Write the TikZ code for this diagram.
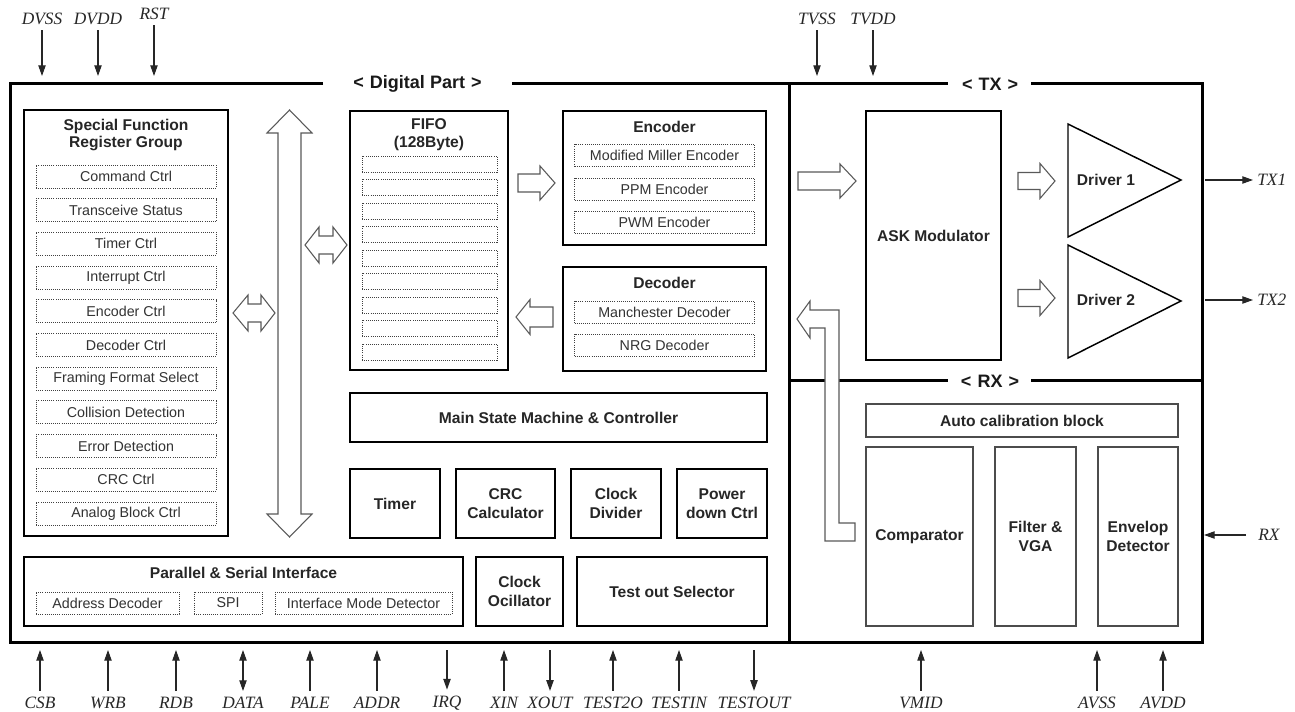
\documentclass[tikz,border=0pt]{standalone}
\usepackage{fontspec}
\setmainfont{Liberation Sans}
\newfontfamily\pinfamily{Liberation Serif}
\usetikzlibrary{arrows.meta}
\newcommand\mybox[7]{%
  \pgfmathsetmacro\mbw{((#4)-(#2))*0.75}%
  \pgfmathsetmacro\mbh{((#5)-(#3))*0.75}%
  \node[#6, minimum width=\mbw pt, minimum height=\mbh pt] (#1) at ({((#2)+(#4))/2},{((#3)+(#5))/2}) {#7};}
\newcommand\harrowshape[6]{% tail, base, tip, yc, shaft half, head half
  \draw[hollow] (#1,{#4-#5}) -- (#2,{#4-#5}) -- (#2,{#4-#6}) -- (#3,#4) -- (#2,{#4+#6}) -- (#2,{#4+#5}) -- (#1,{#4+#5}) -- cycle;}
\newcommand\hdarrowshape[7]{% ltip, lbase, rbase, rtip, yc, s, h
  \draw[hollow] (#1,#5) -- (#2,{#5-#7}) -- (#2,{#5-#6}) -- (#3,{#5-#6}) -- (#3,{#5-#7}) -- (#4,#5) -- (#3,{#5+#7}) -- (#3,{#5+#6}) -- (#2,{#5+#6}) -- (#2,{#5+#7}) -- cycle;}
\tikzset{
  frame/.style={line width=2.25pt, line join=miter},
  blk/.style={draw=black, line width=1.1pt, fill=white, inner sep=0pt, align=center,
    font=\bfseries\fontsize{11.7}{14}\selectfont, text=black!85},
  rxblk/.style={blk, draw=black!70, line width=1pt},
  dbox/.style={draw=black!75, line width=0.6pt, densely dotted, inner sep=0pt,
    font=\fontsize{10.7}{12}\selectfont, text=black!80},
  ttl/.style={font=\bfseries\fontsize{11.7}{12.75}\selectfont, align=center, inner sep=0pt, text=black!85},
  hollow/.style={draw=black!65, line width=0.8pt, fill=white, line join=miter},
  pin/.style={line width=0.8pt, draw=black!85, -{Triangle[length=8pt,width=5.5pt]}},
  pinboth/.style={line width=0.8pt, draw=black!85, {Triangle[length=8pt,width=5.5pt]}-{Triangle[length=8pt,width=5.5pt]}},
  pinlbl/.style={font=\pinfamily\itshape\fontsize{13}{15}\selectfont, inner sep=0pt, text=black!85},
  sect/.style={font=\bfseries\fontsize{13.5}{15}\selectfont, inner sep=0pt, text=black!90}
}
\begin{document}
\begin{tikzpicture}[x=0.75pt,y=-0.75pt]
\useasboundingbox (0,0) rectangle (1295,712);

% ---------- frames ----------
\draw[frame] (323,84) -- (10,84) -- (10,642) -- (1202,642) -- (1202,84) -- (1031,84);
\draw[frame] (512,84) -- (948,84);
\draw[frame] (789,84) -- (789,642);
\draw[frame] (789,381) -- (948,381);
\draw[frame] (1031,381) -- (1202,381);
\node[sect] (digital) at (417.5,84) {<\,\,Digital Part\,\,>};
\node[sect] (tx) at (990,84) {<\,\,TX\,\,>};
\node[sect] (rx) at (990,381) {<\,\,RX\,\,>};

% ---------- SFR group ----------
\mybox{sfr}{24}{110}{228}{536}{blk}{}
\node[ttl] (sfrt) at (126,135.5) {Special Function\\Register Group};
\foreach \t [count=\i from 0] in {Command Ctrl,Transceive Status,Timer Ctrl,Interrupt Ctrl,Encoder Ctrl,Decoder Ctrl,Framing Format Select,Collision Detection,Error Detection,CRC Ctrl,Analog Block Ctrl}{
  \node[dbox, minimum width=135pt, minimum height=17.25pt] (sfr\i) at (126,{176.5+33.7*\i}) {\t};
}

% ---------- bus arrows ----------
\hdarrowshape{233}{248}{261}{275}{313}{9}{18}
\draw[hollow] (289.5,110) -- (312,133) -- (301,133) -- (301,514) -- (312,514) -- (289.5,537)
  -- (267,514) -- (278,514) -- (278,133) -- (267,133) -- cycle;
\hdarrowshape{305}{319}{333}{347}{245}{9}{18}

% ---------- FIFO ----------
\mybox{fifo}{350}{111}{508}{370}{blk}{}
\node[ttl] (fifot) at (429,124) {FIFO};
\node[ttl] (fifob) at (429,143) {(128Byte)};
\foreach \i in {0,...,8}{
  \node[dbox, minimum width=101.25pt, minimum height=12pt] (ff\i) at (429.5,{164+23.5*\i}) {};
}

% ---------- Encoder / Decoder ----------
\mybox{enc}{563}{111}{766}{245}{blk}{}
\node[ttl] (enct) at (664.5,127) {Encoder};
\node[dbox, minimum width=135pt, minimum height=16.5pt] (enc1) at (664.5,155.5) {Modified Miller Encoder};
\node[dbox, minimum width=135pt, minimum height=16.5pt] (enc2) at (664.5,189) {PPM Encoder};
\node[dbox, minimum width=135pt, minimum height=16.5pt] (enc3) at (664.5,222) {PWM Encoder};

\mybox{dec}{563}{267}{766}{371}{blk}{}
\node[ttl] (dect) at (664.5,283) {Decoder};
\node[dbox, minimum width=135pt, minimum height=16.5pt] (dec1) at (664.5,312) {Manchester Decoder};
\node[dbox, minimum width=135pt, minimum height=16.5pt] (dec2) at (664.5,345) {NRG Decoder};

\harrowshape{518}{540}{555}{183}{9}{17}
\harrowshape{553}{530}{516}{317}{10}{17.5}

% ---------- Controller blocks ----------
\mybox{msm}{350}{393}{767}{442}{blk}{Main State Machine \& Controller}
\mybox{timer}{350}{469}{440}{538}{blk}{Timer}
\mybox{crc}{456}{469}{555}{538}{blk}{CRC\\Calculator}
\mybox{clkdiv}{571}{469}{661}{538}{blk}{Clock\\Divider}
\mybox{pwr}{677}{469}{767}{538}{blk}{Power\\down Ctrl}

% ---------- bottom row ----------
\mybox{psi}{24}{557}{463}{626}{blk}{}
\node[ttl] (psit) at (243.5,573) {Parallel \& Serial Interface};
\mybox{addr}{36}{592}{179}{614}{dbox}{Address Decoder}
\mybox{spi}{194}{592}{262}{614}{dbox}{SPI}
\mybox{imd}{275}{592}{452}{614}{dbox}{Interface Mode Detector}
\mybox{osc}{476}{557}{563}{626}{blk}{Clock\\Ocillator}
\mybox{tos}{577}{557}{767}{626}{blk}{Test out Selector}

% ---------- TX ----------
\mybox{ask}{866}{111}{1001}{360}{blk}{ASK Modulator}
\harrowshape{798}{840}{856}{181}{9}{17}
\harrowshape{1018}{1040}{1055}{181}{8.5}{17.5}
\harrowshape{1018}{1040}{1055}{298}{8.5}{17.5}
\draw[line width=1.1pt, line join=miter] (1068,124) -- (1181,180) -- (1068,237) -- cycle;
\node[ttl] (drv1) at (1106,180) {Driver 1};
\draw[line width=1.1pt, line join=miter] (1068,245) -- (1181,301) -- (1068,358) -- cycle;
\node[ttl] (drv2) at (1106,300) {Driver 2};

% ---------- RX ----------
\mybox{acal}{866}{404}{1178}{437}{rxblk}{Auto calibration block}
\mybox{comp}{866}{447}{973}{626}{rxblk}{Comparator}
\mybox{fvga}{995}{447}{1076}{626}{rxblk}{Filter \&\\VGA}
\mybox{env}{1098}{447}{1178}{626}{rxblk}{Envelop\\Detector}
\draw[hollow] (855,523) -- (839,523) -- (839,310) -- (810,310) -- (810,301) -- (797,319)
  -- (810,338) -- (810,328) -- (825,328) -- (825,541) -- (855,541) -- cycle;

% ---------- pins ----------
\foreach \n/\x/\y in {DVSS/42/19,DVDD/98/19,RST/154/14,TVSS/817/19,TVDD/873/19}{
  \node[pinlbl] (p\n) at (\x,\y) {\n};
  \coordinate (f\n) at (\x,76);
  \draw[pin, shorten <=4pt] (p\n.south) -- (f\n);
}
\foreach \n/\x in {CSB/40,WRB/108,RDB/176,PALE/310,ADDR/377,XIN/504,TEST2O/613,TESTIN/679,VMID/921,AVSS/1097,AVDD/1163}{
  \node[pinlbl] (p\n) at (\x,703) {\n};
  \coordinate (f\n) at (\x,650);
  \draw[pin, shorten <=4.5pt] (p\n.north) -- (f\n);
}
\foreach \n/\x in {IRQ/447,XOUT/550,TESTOUT/754}{
  \node[pinlbl] (p\n) at (\x,703) {\n};
  \coordinate (f\n) at (\x,650);
  \draw[pin, shorten >=4.5pt] (f\n) -- (p\n.north);
}
\node[pinlbl] (pDATA) at (243,703) {DATA};
\coordinate (fDATA) at (243,650);
\draw[pinboth, shorten <=4.5pt] (pDATA.north) -- (fDATA);

\node[pinlbl, anchor=west] (pTX1) at (1257,180) {TX1};
\coordinate (fTX1) at (1205,180);
\draw[pin, shorten >=3pt] (fTX1) -- (pTX1.west);
\node[pinlbl, anchor=west] (pTX2) at (1257,300) {TX2};
\coordinate (fTX2) at (1205,300);
\draw[pin, shorten >=3pt] (fTX2) -- (pTX2.west);
\node[pinlbl, anchor=west] (pRX) at (1258,535) {RX};
\coordinate (fRX) at (1204,535);
\draw[pin, shorten <=9pt] (pRX.west) -- (fRX);
\end{tikzpicture}
\end{document}
